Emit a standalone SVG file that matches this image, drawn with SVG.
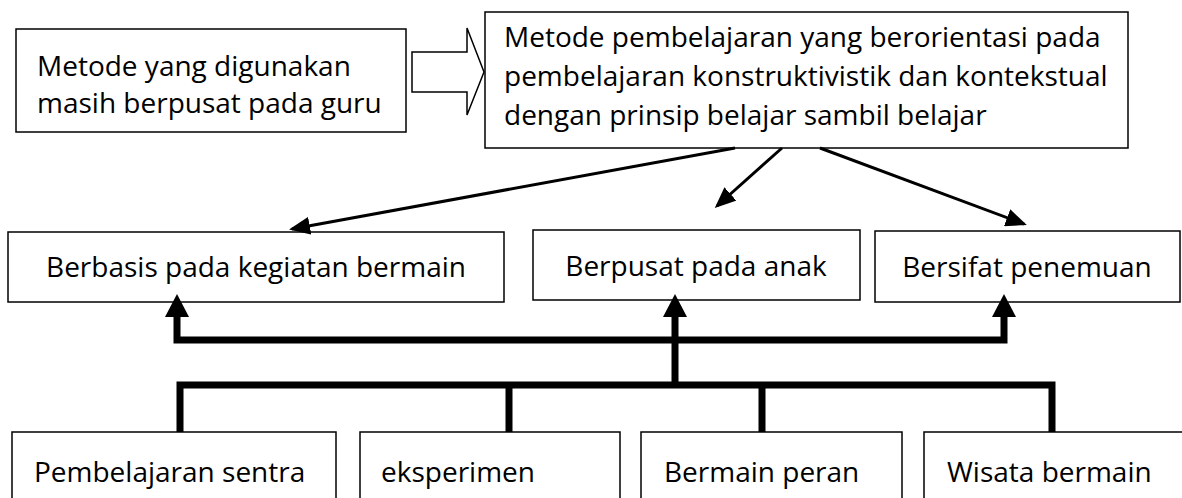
<svg xmlns="http://www.w3.org/2000/svg" width="1182" height="498" viewBox="0 0 1182 498">
<style>
.box{fill:#fff;stroke:#000;stroke-width:1.5}
.t{font-family:"Open Sans","Noto Sans",sans-serif;font-size:28px;fill:#000}
.c{text-anchor:middle}
.thin{fill:none;stroke:#000;stroke-width:3}
.thick{fill:none;stroke:#000;stroke-width:7}
.head{fill:#000}
</style>
<defs>
<marker id="ah" markerWidth="7" markerHeight="6" refX="6" refY="3" orient="auto" markerUnits="strokeWidth">
<path d="M0,0 L7,3 L0,6 Z" class="head"/>
</marker>
</defs>
<rect width="1182" height="498" fill="#fff"/>
<g id="n-guru">
<rect class="box" x="16" y="29" width="390" height="103"/>
<text class="t" x="37" y="76">Metode yang digunakan</text>
<text class="t" x="37" y="113">masih berpusat pada guru</text>
</g>
<g id="n-arrow-block">
<path d="M412,52 L467,52 L467,28 L484,72 L467,115 L467,92 L412,92 Z" fill="#fff" stroke="#000" stroke-width="1.5"/>
</g>
<g id="n-metode">
<rect class="box" x="485" y="12" width="643" height="136"/>
<text class="t" x="504" y="47">Metode pembelajaran yang berorientasi pada</text>
<text class="t" x="504" y="86">pembelajaran konstruktivistik dan kontekstual</text>
<text class="t" x="504" y="125">dengan prinsip belajar sambil belajar</text>
</g>
<g id="n-bermain">
<rect class="box" x="8" y="232" width="496" height="70"/>
<text class="t c" x="256" y="277">Berbasis pada kegiatan bermain</text>
</g>
<g id="n-anak">
<rect class="box" x="533" y="230" width="327" height="70"/>
<text class="t c" x="696" y="276">Berpusat pada anak</text>
</g>
<g id="n-penemuan">
<rect class="box" x="875" y="231" width="305" height="71"/>
<text class="t c" x="1027" y="277">Bersifat penemuan</text>
</g>
<g id="n-sentra">
<rect class="box" x="12" y="432" width="324" height="80"/>
<text class="t" x="34" y="482">Pembelajaran sentra</text>
</g>
<g id="n-eksperimen">
<rect class="box" x="360" y="432" width="260" height="80"/>
<text class="t" x="381" y="482">eksperimen</text>
</g>
<g id="n-peran">
<rect class="box" x="641" y="432" width="261" height="80"/>
<text class="t" x="664" y="482">Bermain peran</text>
</g>
<g id="n-wisata">
<rect class="box" x="924" y="432" width="270" height="80"/>
<text class="t" x="947" y="482">Wisata bermain</text>
</g>
<g id="connectors">
<line class="thin" x1="735" y1="148" x2="292" y2="229" marker-end="url(#ah)"/>
<line class="thin" x1="782" y1="148" x2="717" y2="206" marker-end="url(#ah)"/>
<line class="thin" x1="820" y1="148" x2="1024" y2="224" marker-end="url(#ah)"/>
<path class="thick" d="M180,432 V385 H1052 V432"/>
<path class="thick" d="M509,385 V432 M762,385 V432"/>
<path class="thick" d="M675,385 V314"/>
<path class="thick" d="M177,314 V340 H1004 V314"/>
<path class="head" d="M177,294 L189,317 L165,317 Z"/>
<path class="head" d="M675,294 L687,317 L663,317 Z"/>
<path class="head" d="M1004,294 L1016,317 L992,317 Z"/>
</g>
</svg>
